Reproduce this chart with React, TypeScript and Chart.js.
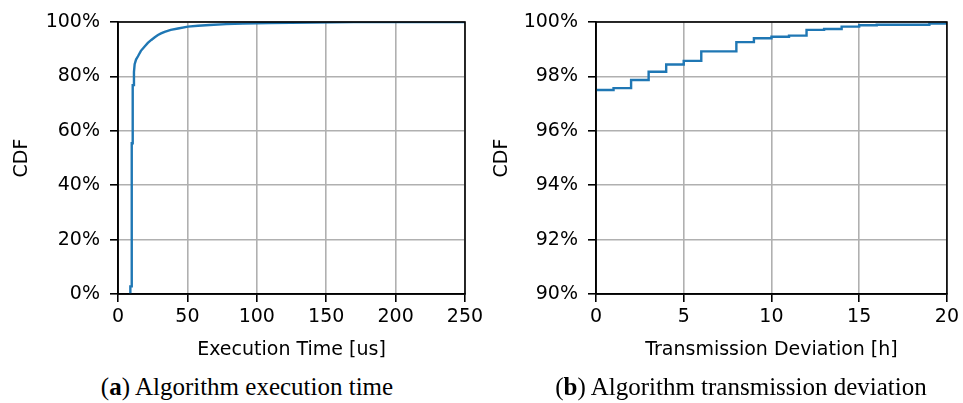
import React, { useEffect, useRef } from 'react';
import { Chart, registerables } from 'chart.js';

Chart.register(...registerables);

// Left chart: CDF of algorithm execution time (us -> %)
const execTimeUs = [8.9, 8.9, 9.9, 9.9, 10.6, 10.6, 11.5, 11.5, 12, 13, 14.4, 16.5, 19.2, 21.5, 24, 26.5, 28.8, 31, 33.6, 38, 43.2, 50.4, 57.6, 66, 78, 90, 109, 140, 170, 200, 250];
const execCdfPct = [0, 2.8, 2.8, 55.4, 55.4, 76.8, 76.8, 81.6, 84.5, 86.2, 87.4, 89.4, 91, 92.3, 93.4, 94.4, 95.2, 95.8, 96.4, 97.1, 97.6, 98.3, 98.6, 98.9, 99.2, 99.4, 99.6, 99.8, 99.95, 100, 100];
const execXTicks = [0, 50, 100, 150, 200, 250];
const execYTicks = [0, 20, 40, 60, 80, 100];

// Right chart: CDF of transmission deviation (h -> %)
const devHours = [0, 1, 2, 3, 4, 5, 6, 7, 8, 9, 10, 11, 12, 13, 14, 15, 16, 17, 18, 19, 20];
const devCdfPct = [97.5, 97.57, 97.87, 98.17, 98.44, 98.57, 98.92, 98.92, 99.26, 99.4, 99.46, 99.5, 99.71, 99.74, 99.83, 99.88, 99.9, 99.9, 99.9, 99.94, 100];
const devXTicks = [0, 5, 10, 15, 20];
const devYTicks = [90, 92, 94, 96, 98, 100];

const captionA = 'Algorithm execution time';
const captionB = 'Algorithm transmission deviation';

const FONT = 'DejaVu Sans';
const LINE = '#1f77b4';

const framePlugin = {
  id: 'frame',
  afterDraw(chart: any) {
    const { ctx, chartArea: a } = chart;
    ctx.save();
    ctx.strokeStyle = '#000';
    ctx.lineWidth = 1.6;
    ctx.strokeRect(a.left, a.top, a.right - a.left, a.bottom - a.top);
    ctx.restore();
  },
};

type Cfg = {
  xs: number[];
  ys: number[];
  xTicks: number[];
  yTicks: number[];
  xTitle: string;
  stepped: boolean;
  width: number;
  height: number;
  yAxisWidth: number;
  plotBottom: number;
  rightPad: number;
};

function CdfChart(props: Cfg) {
  const ref = useRef<HTMLCanvasElement | null>(null);
  useEffect(() => {
    if (!ref.current) return;
    const { xs, ys, xTicks, yTicks } = props;
    const data = xs.map((x, i) => ({ x, y: ys[i] }));
    const chart = new Chart(ref.current, {
      type: 'line',
      data: {
        datasets: [
          {
            data,
            borderColor: LINE,
            borderWidth: 2.4,
            pointRadius: 0,
            fill: false,
            stepped: props.stepped ? 'before' : false,
            tension: 0,
          } as any,
        ],
      },
      options: {
        animation: false,
        responsive: false,
        devicePixelRatio: 1,
        layout: { padding: { left: 0, top: 22, right: props.rightPad, bottom: 0 } },
        plugins: { legend: { display: false }, tooltip: { enabled: false } },
        scales: {
          x: {
            type: 'linear',
            min: xTicks[0],
            max: xTicks[xTicks.length - 1],
            afterBuildTicks: (s: any) => {
              s.ticks = xTicks.map((v) => ({ value: v }));
            },
            afterFit: (s: any) => {
              s.height = props.height - props.plotBottom;
            },
            ticks: {
              color: '#000',
              font: { family: FONT, size: 19 },
              padding: 4,
              maxRotation: 0,
              autoSkip: false,
            },
            grid: { color: '#b0b0b0', lineWidth: 1.6, tickColor: '#000', tickLength: 8 },
            border: { color: '#000', width: 1.6 },
            title: {
              display: true,
              text: props.xTitle,
              color: '#000',
              font: { family: FONT, size: 19 },
              padding: { top: 0, bottom: 9 },
            },
          },
          y: {
            type: 'linear',
            min: yTicks[0],
            max: yTicks[yTicks.length - 1],
            afterBuildTicks: (s: any) => {
              s.ticks = yTicks.map((v) => ({ value: v }));
            },
            afterFit: (s: any) => {
              s.width = props.yAxisWidth;
            },
            ticks: {
              color: '#000',
              font: { family: FONT, size: 19 },
              padding: 10,
              callback: (v: any) => v + '%',
            },
            grid: { color: '#b0b0b0', lineWidth: 1.6, tickColor: '#000', tickLength: 8 },
            border: { color: '#000', width: 1.6 },
            title: {
              display: true,
              text: 'CDF',
              color: '#000',
              font: { family: FONT, size: 19 },
              padding: { top: 11, bottom: 0 },
            },
          },
        },
      },
      plugins: [framePlugin],
    });
    return () => chart.destroy();
  }, []);
  return <canvas ref={ref} width={props.width} height={props.height} style={{ width: props.width, height: props.height, display: 'block' }} />;
}

const captionStyle: React.CSSProperties = {
  position: 'absolute',
  top: 374,
  fontFamily: '"Liberation Serif", serif',
  fontSize: 25,
  lineHeight: '25px',
  color: '#000',
  textAlign: 'center',
  whiteSpace: 'nowrap',
};

export default function App() {
  return (
    <div style={{ position: 'absolute', left: 0, top: 0, width: 963, height: 403, background: '#fff', overflow: 'hidden' }}>
      <div style={{ position: 'absolute', left: 0, top: 0 }}>
        <CdfChart
          xs={execTimeUs}
          ys={execCdfPct}
          xTicks={execXTicks}
          yTicks={execYTicks}
          xTitle="Execution Time [us]"
          stepped={false}
          width={490}
          height={370}
          yAxisWidth={118}
          plotBottom={294}
          rightPad={25}
        />
      </div>
      <div style={{ position: 'absolute', left: 480, top: 0 }}>
        <CdfChart
          xs={devHours}
          ys={devCdfPct}
          xTicks={devXTicks}
          yTicks={devYTicks}
          xTitle="Transmission Deviation [h]"
          stepped={true}
          width={483}
          height={370}
          yAxisWidth={116}
          plotBottom={294}
          rightPad={14}
        />
      </div>
      <div style={{ ...captionStyle, left: 47, width: 400 }}>
        (<b>a</b>) {captionA}
      </div>
      <div style={{ ...captionStyle, left: 541, width: 400 }}>
        (<b>b</b>) {captionB}
      </div>
    </div>
  );
}
